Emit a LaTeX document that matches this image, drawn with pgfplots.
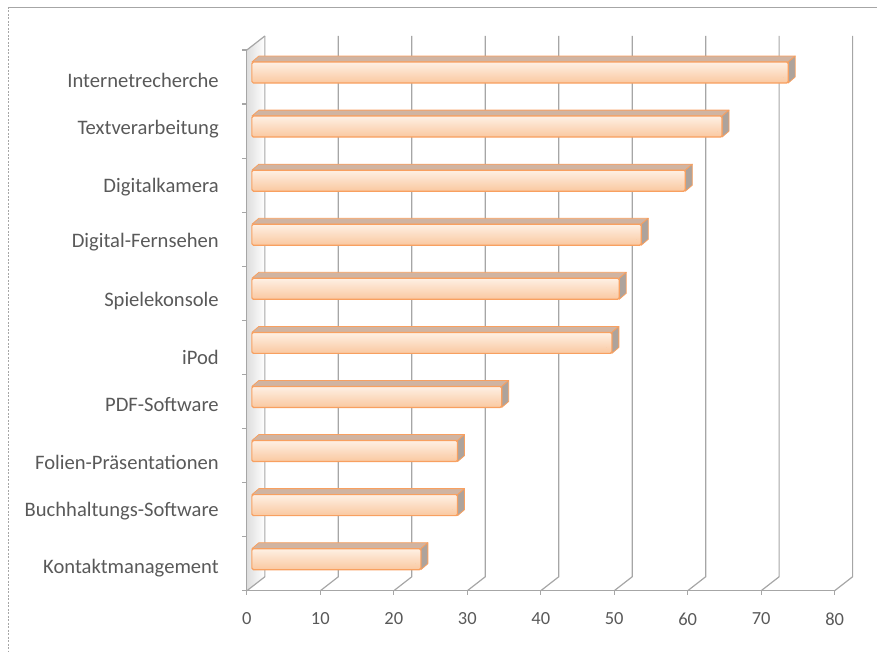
\documentclass[border=0pt]{standalone}
\usepackage{pgfplots}
\pgfplotsset{compat=1.18}
\usepackage{fontspec}
\setmainfont{Carlito}

\definecolor{gridc}{HTML}{A6A6A6}
\definecolor{txt}{HTML}{595959}
\definecolor{barEdge}{HTML}{F8A060}
\definecolor{barHi}{HTML}{FEF0E4}
\definecolor{barLo}{HTML}{FAC8A0}
\definecolor{barTop}{HTML}{D0B4A2}
\definecolor{barSide}{HTML}{ADA39C}
\definecolor{wallc}{HTML}{DEDEDE}

\newcommand{\lab}[2]{\raisebox{#1bp}[0pt][0pt]{#2}}

\begin{document}
\begin{tikzpicture}
  \path (0,0) rectangle (877bp,-652bp);
  % frame of the chart area
  \draw[gridc, line width=0.8bp] (8bp,-7bp) -- (877bp,-7bp);
  \draw[gridc, line width=0.6bp, dash pattern=on 2bp off 1.5bp] (8bp,-7bp) -- (8bp,-652bp);

  \begin{axis}[
    set layers,
    scale only axis,
    width=588bp, height=541bp,
    at={(247bp,-591bp)}, anchor=south west,
    xmin=0, xmax=80,
    ymin=-0.5, ymax=9.5,
    y dir=reverse,
    clip=false,
    axis line style={draw=none},
    tick style={draw=none},
    xtick={0,10,20,30,40,50,60,70,80},
    xticklabels={0,10,20,30,40,50,60,70,80},
    ytick={0,1,2,3,4,5,6,7,8,9},
    yticklabels={\lab{1}{Internetrecherche},\lab{8}{Textverarbeitung},\lab{4}{Digitalkamera},\lab{3}{Digital-Fernsehen},\lab{-2}{Spielekonsole},\lab{-6}{iPod},\lab{1}{PDF-Software},\lab{-3}{Folien-Präsentationen},\lab{4}{Buchhaltungs-Software},\lab{1}{Kontaktmanagement}},
    ticklabel style={text=txt, inner sep=0pt},
    xticklabel style={anchor=north, font=\fontsize{18.5bp}{21bp}\selectfont},
    xticklabel shift=22bp,
    yticklabel style={anchor=base east, yshift=-11bp, font=\fontsize{20.6bp}{24bp}\selectfont},
    yticklabel shift=28bp,
  ]
    \begin{pgfonlayer}{axis background}
      % side wall
      \shade[left color=wallc, right color=white]
        (axis cs:0,-0.5) -- (axis cs:0,9.5) -- ++(18bp,14bp) -- ++(0bp,541bp) -- cycle;
      % 3D gridlines
      \pgfplotsinvokeforeach{0,10,20,30,40,50,60,70,80}{
        \draw[gridc, line width=1.2bp] (axis cs:#1,9.5) -- ++(18bp,14bp) -- ++(0bp,541bp);
        \draw[gridc, line width=1.2bp] (axis cs:#1,9.5) -- ++(0bp,-4bp);
      }
      \draw[gridc, line width=1.2bp] (axis cs:0,-0.5) -- ++(18bp,14bp);
      \draw[gridc, line width=1.2bp] (axis cs:0,-0.5) -- (axis cs:0,9.5) -- (axis cs:80,9.5);
      \pgfplotsinvokeforeach{-0.5,0.5,1.5,2.5,3.5,4.5,5.5,6.5,7.5,8.5,9.5}{
        \draw[gridc, line width=1.2bp] (axis cs:0,#1) -- ++(-5bp,0bp);
      }
    \end{pgfonlayer}

    % 3D bars: each drawn at its data point, length from the value
    \addplot[
      scatter, only marks, mark=*, mark size=0pt,
      mark options={draw=none, fill=none},
      visualization depends on={value \thisrow{v} \as \xv},
      scatter/@pre marker code/.code={%
        \fill[barTop, draw=barEdge, line width=0.8bp, line join=round]
          ({5bp-\xv*7.35bp},15bp) -- (5bp,15bp) -- (12bp,21bp) -- ({12bp-\xv*7.35bp},21bp) -- cycle;
        \fill[barSide, draw=barEdge, line width=0.8bp, line join=round]
          (5bp,-6bp) -- (12bp,0bp) -- (12bp,21bp) -- (5bp,15bp) -- cycle;
        \shade[top color=barHi, bottom color=barLo, draw=barEdge, line width=1.2bp, rounded corners=1.5bp]
          ({5bp-\xv*7.35bp},-6bp) rectangle (5bp,15bp);
      },
      scatter/@post marker code/.code={},
    ] table {
      v  i
      73 0
      64 1
      59 2
      53 3
      50 4
      49 5
      34 6
      28 7
      28 8
      23 9
    };
  \end{axis}
\end{tikzpicture}
\end{document}
